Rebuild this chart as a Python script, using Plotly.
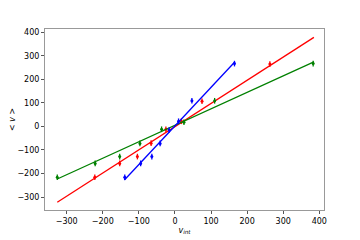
import plotly.graph_objects as go

# data points (v_int, <v>) and fitted lines (slope, intercept, x-extent)
red_x = [-222, -153, -104, -66, -25, 18, 75, 263]
red_y = [-216, -157, -128, -71, -12, 22, 107, 265]
green_x = [-326, -221, -153, -97, -37, 25, 110, 383]
green_y = [-216, -157, -128, -72, -12, 18, 109, 267]
blue_x = [-139, -95, -64, -41, -16, 10, 47, 165]
blue_y = [-216, -157, -128, -72, -15, 22, 109, 267]
err = [12] * 8

red_fit = (0.985, -1.0, [-326, 385])
green_fit = (0.70, 5.0, [-326, 385])
blue_fit = (1.64, 2.0, [-140, 165])

x_ticks = [-300, -200, -100, 0, 100, 200, 300, 400]
y_ticks = [-300, -200, -100, 0, 100, 200, 300, 400]

fig = go.Figure()
for xs, ys, fit, col in [(red_x, red_y, red_fit, "#ff0000"),
                         (green_x, green_y, green_fit, "#008000"),
                         (blue_x, blue_y, blue_fit, "#0000ff")]:
    m, b, ext = fit
    fig.add_trace(go.Scatter(x=ext, y=[m * v + b for v in ext], mode="lines",
                             line=dict(color=col, width=1.3), showlegend=False))
    fig.add_trace(go.Scatter(x=xs, y=ys, mode="markers",
                             marker=dict(color=col, size=3),
                             error_y=dict(type="data", array=err, color=col,
                                          thickness=1.3, width=0),
                             showlegend=False))

axis_common = dict(showline=True, mirror=True, linecolor="#999999", linewidth=1,
                   ticks="outside", ticklen=3, tickcolor="#555555",
                   showgrid=False, zeroline=False, automargin=False,
                   tickfont=dict(family="DejaVu Sans", size=8, color="black"))
fig.update_xaxes(range=[-360, 413], tickvals=x_ticks,
                 title=dict(text="<i>v</i><sub><i>int</i></sub>",
                            font=dict(family="DejaVu Sans", size=8, color="black"),
                            standoff=2),
                 **axis_common)
fig.update_yaxes(range=[-355, 414], tickvals=y_ticks,
                 title=dict(text="&lt; <i>v</i> &gt;",
                            font=dict(family="DejaVu Sans", size=8, color="black"),
                            standoff=7),
                 **axis_common)
fig.update_layout(width=352, height=232, margin=dict(l=37, r=36, t=21, b=30),
                  plot_bgcolor="white", paper_bgcolor="white")
fig.write_html("out.html")
